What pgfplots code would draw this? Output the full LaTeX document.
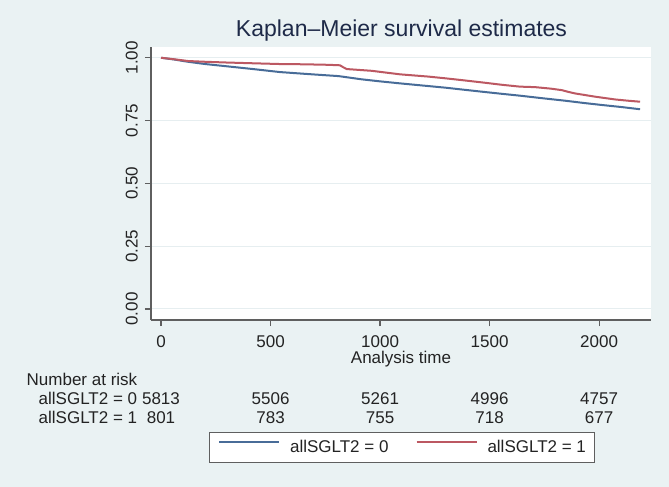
\documentclass[border=0pt]{standalone}
\usepackage{pgfplots}
\pgfplotsset{compat=1.18}
\usepackage{pgfplotstable}
\usepackage{fontspec}
\setmainfont{Liberation Sans}
\definecolor{bg}{RGB}{234,242,243}
\definecolor{kmblue}{RGB}{72,108,152}
\definecolor{kmred}{RGB}{188,88,98}
\definecolor{axgray}{RGB}{95,95,95}
\definecolor{txt}{RGB}{35,35,35}
\definecolor{ttl}{RGB}{30,42,72}
\definecolor{gridc}{RGB}{230,238,240}

\pgfplotstableread{
t s
0 1.000
60 0.993
123 0.984
201 0.975
300 0.966
420 0.955
543 0.943
673 0.935
810 0.927
917 0.914
1000 0.906
1091 0.898
1200 0.889
1297 0.881
1380 0.873
1464 0.865
1550 0.857
1639 0.849
1740 0.839
1845 0.829
1930 0.820
2012 0.812
2100 0.804
2187 0.795
}\blue

\pgfplotstableread{
t s
0 1.000
60 0.994
123 0.987
201 0.984
300 0.981
420 0.978
543 0.975
650 0.974
760 0.972
817 0.970
830 0.963
848 0.955
962 0.948
1091 0.934
1221 0.925
1300 0.918
1373 0.911
1464 0.902
1560 0.892
1639 0.885
1708 0.883
1780 0.877
1830 0.871
1860 0.864
1890 0.858
1982 0.845
2073 0.834
2132 0.829
2187 0.825
}\red

\begin{document}
\begin{tikzpicture}[riskf/.style={font=\fontsize{17}{17}\selectfont, text=txt, inner sep=0pt}]
\fill[bg] (0,0) rectangle (669pt,-487pt);
\begin{axis}[
  at={(151pt,-320pt)}, anchor=south west,
  scale only axis, width=500pt, height=273.3pt,
  xmin=-46, xmax=2237, ymin=-0.044, ymax=1.044,
  axis x line*=bottom, axis y line*=left,
  axis line style={axgray, line width=1.2pt, -},
  axis background/.style={fill=white},
  xtick={0,500,1000,1500,2000}, ytick={0,0.25,0.5,0.75,1},
  tick align=outside, major tick length=6pt,
  tick style={axgray, line width=1.2pt},
  ymajorgrids, grid style={gridc, line width=1pt},
  ticklabel style={font=\fontsize{17}{17}\selectfont, text=txt},
  y tick label style={rotate=90, anchor=south, inner sep=0pt,
    /pgf/number format/fixed, /pgf/number format/fixed zerofill,
    /pgf/number format/precision=2},
  yticklabel shift=7pt,
  x tick label style={anchor=north, inner sep=0pt, /pgf/number format/1000 sep={}},
  xticklabel shift=9pt,
  /pgf/number format/assume math mode=true,
  scaled ticks=false,
  xlabel={Analysis time},
  xlabel style={at={(axis description cs:0.5,0)}, anchor=base, yshift=-43pt,
    font=\fontsize{17}{17}\selectfont, text=txt, inner sep=0pt},
  title={Kaplan--Meier survival estimates},
  title style={at={(axis description cs:0.501,1)}, anchor=base, yshift=4.7pt,
    font=\fontsize{23}{23}\selectfont, text=ttl, inner sep=0pt},
  legend columns=2,
  legend style={at={(axis description cs:0.502,-0.4665)}, anchor=center,
    draw=axgray, line width=1pt, fill=white, text=txt,
    font=\fontsize{17}{17}\selectfont,
    inner xsep=9pt, inner ysep=8pt,
    nodes={inner sep=0pt},
    column sep=0pt,
    /tikz/every even column/.append style={column sep=27pt}},
  legend image code/.code={\draw[#1] (0pt,6pt) -- (60pt,6pt); \path (70pt,6pt);},
  clip=false,
]
\addplot[kmblue, line width=2pt] table[x=t, y=s] {\blue};
\addlegendentry{allSGLT2 = 0}
\addplot[kmred, line width=2pt] table[x=t, y=s] {\red};
\addlegendentry{allSGLT2 = 1}
\end{axis}
\node[riskf, anchor=base west] at (26.5pt,-385pt) {Number at risk};
\node[riskf, anchor=base west] at (38.5pt,-404pt) {allSGLT2 = 0};
\node[riskf, anchor=base west] at (38.5pt,-423pt) {allSGLT2 = 1};
\node[riskf, anchor=base] at (161pt,-404pt) {5813};
\node[riskf, anchor=base] at (270.6pt,-404pt) {5506};
\node[riskf, anchor=base] at (380.1pt,-404pt) {5261};
\node[riskf, anchor=base] at (489.6pt,-404pt) {4996};
\node[riskf, anchor=base] at (599.1pt,-404pt) {4757};
\node[riskf, anchor=base] at (161pt,-423pt) {801};
\node[riskf, anchor=base] at (270.6pt,-423pt) {783};
\node[riskf, anchor=base] at (380.1pt,-423pt) {755};
\node[riskf, anchor=base] at (489.6pt,-423pt) {718};
\node[riskf, anchor=base] at (599.1pt,-423pt) {677};
\end{tikzpicture}
\end{document}
